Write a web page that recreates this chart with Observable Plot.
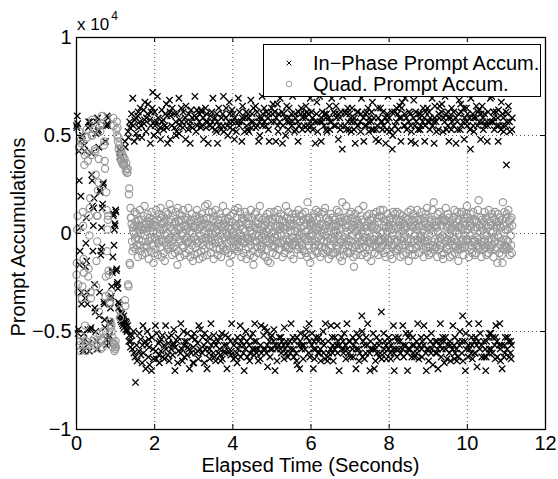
<!DOCTYPE html>
<html><head><meta charset="utf-8">
<script src="https://cdn.jsdelivr.net/npm/d3@7"></script>
<script src="https://cdn.jsdelivr.net/npm/@observablehq/plot@0.6"></script>
<style>
html,body{margin:0;padding:0;background:#fff;}
svg{display:block}
</style></head><body><div id="chart"></div>
<script>
// Sampling clock of the accumulations (samples per second)
const sampleRate = 100;
// Values below are in hundreds of accumulation counts
const unit = 100;
const inPhase = [
55,54,60,56,-51,-49,42,27,-16,-9,
3,19,-30,-36,48,50,-59,-55,-60,-51,
45,42,-33,-17,-5,8,-14,-30,-36,-49,
54,57,-56,-60,55,57,-49,-48,41,30,
27,14,-9,4,13,18,-26,-38,-40,-50,
51,57,-55,-59,59,52,53,44,-42,-30,
22,21,-11,-9,3,-7,13,15,25,26,
-35,-36,-44,-48,47,55,-57,-54,60,56,
55,59,-53,-56,-52,-45,-46,-38,-33,-32,
-27,-19,-20,-12,9,10,-6,2,5,4,
12,11,-19,-18,-26,-25,-28,-35,-38,-36,
43,39,-42,-44,-40,-45,-41,-46,-43,-47,
-44,-42,-48,-45,47,44,-49,-45,-46,-50,
-49,-47,52,49,-55,-52,57,54,-58,-55,
56,61,-52,-59,69,55,-50,-61,47,58,-63,-76,59,51,-57,-65,49,60,62,54,
-60,-51,57,64,-54,-62,55,49,-66,-57,-47,-61,63,56,58,67,-55,-69,52,59,
-57,-50,61,66,-63,-54,-58,-67,58,46,55,62,-70,-53,64,72,-59,-64,50,57,
62,55,-47,-60,-64,-51,57,70,52,59,-56,-62,-66,-55,54,48,-60,-54,63,57,
-52,-63,58,53,-57,-64,55,61,-47,-59,66,54,60,46,-62,-56,-53,-65,68,62,
48,60,-59,-52,55,64,-62,-57,-56,-49,61,54,-70,-58,57,50,52,61,-55,-66,
-53,-60,69,51,58,55,-61,-46,64,57,-59,-65,54,62,-50,-57,-63,-55,59,48,
65,57,-55,-62,-51,-58,53,61,-59,-69,55,46,57,63,-61,-53,59,54,-66,-58,
-66,-51,60,70,-54,-61,52,59,63,55,-56,-60,-64,-47,57,61,-59,-49,54,63,
55,62,-61,-53,59,48,-57,-66,-51,-59,64,57,54,61,-69,-55,57,46,-53,-61,
-59,-64,55,60,-46,-57,62,54,57,69,-61,-52,-55,-63,59,53,-65,-57,52,61,
57,46,-55,-61,64,55,-59,-53,-62,-65,53,59,-51,-64,61,55,70,52,-57,-60,
-61,-52,59,64,-57,-69,55,50,-53,-60,57,67,61,54,-55,-62,-60,-46,63,57,
53,61,-64,-57,48,59,-55,-63,57,52,-61,-66,-53,-59,69,57,55,62,-57,-47,
-63,-55,57,47,59,65,-53,-61,-57,-70,52,59,-59,-50,62,55,-55,-63,53,61,
59,52,-57,-65,-61,-53,68,57,54,61,-59,-51,57,64,-62,-55,-46,-59,65,54,
-55,-61,62,55,-59,-65,47,59,57,50,-64,-57,-47,-61,59,70,55,61,-59,-52,
64,57,-48,-59,55,62,-61,-50,-57,-68,59,53,61,47,-55,-63,-59,-53,57,64,
-52,-59,61,66,-55,-49,57,62,-70,-57,47,59,-59,-65,66,55,52,61,-57,-53,
57,69,-59,-53,-61,-55,62,46,55,61,-57,-64,-48,-59,59,50,-61,-55,65,57,
-57,-63,53,59,64,57,-55,-61,-59,-46,61,55,57,70,-53,-59,-63,-55,52,61,
59,53,-61,-65,-53,-67,57,47,62,55,-57,-69,-55,-51,61,64,-59,-57,53,59,
-64,-57,55,61,-52,-59,59,65,-49,-53,62,55,53,61,-61,-46,-55,-63,69,57,
55,62,-57,-51,59,53,-69,-59,-55,-64,57,46,-59,-53,61,67,57,52,-61,-55,
-53,-61,70,57,-59,-65,47,59,57,62,-55,-50,-61,-57,55,61,-64,-46,59,53,
61,52,-65,-63,-55,-61,59,65,53,57,-59,-47,57,69,-53,-61,-57,-65,62,55,
-59,-53,61,55,65,59,-57,-47,-61,-55,48,61,-70,-57,59,53,55,62,-53,-59,
43,70,-55,-61,-59,-51,55,62,-57,-64,61,53,-46,-59,64,57,-61,-55,53,61,
-55,-63,59,52,57,64,-59,-53,-63,-57,53,59,57,46,-55,-69,-59,-51,62,55,
62,55,-59,-65,-53,-61,57,52,61,69,-42,-50,-63,-55,59,47,-57,-64,55,61,
-61,-53,55,62,-57,-46,64,57,52,59,-61,-70,-55,-59,57,62,53,67,-59,-51,
53,59,-69,-57,-59,-65,48,53,-53,-61,55,64,59,47,-57,-63,-55,-61,64,57,
-40,-64,57,53,62,55,-51,-59,-61,-55,59,46,-57,-64,53,61,57,70,-59,-53,
59,52,-55,-61,-64,-57,53,62,43,50,-59,-47,-61,-70,62,55,-53,-59,57,64,
-63,-55,61,53,-53,-59,59,65,-55,-61,47,59,64,67,-59,-47,-57,-63,55,61,
55,69,-57,-51,59,53,-61,-70,-59,-53,57,62,-51,-59,61,55,47,52,-63,-57,
-53,-61,59,68,-57,-63,55,46,62,57,-55,-61,-59,-46,53,61,-64,-57,59,53,
61,55,-53,-59,-63,-55,57,64,-57,-47,59,47,55,62,-61,-70,-53,-59,64,57,
-59,-65,62,57,53,59,-55,-61,-51,-59,69,55,-67,-57,57,46,59,65,-55,-61,
57,52,-61,-55,-59,-69,53,61,59,65,-57,-46,-55,-63,62,66,-59,-53,52,59,
-55,-66,57,70,-53,-59,61,53,-64,-57,55,62,59,47,-61,-55,-57,-65,59,53,
64,57,-59,-47,55,62,-57,-64,-53,-61,59,46,-59,-65,57,53,-63,-55,61,68,
-57,-50,53,66,62,55,-61,-55,-42,-65,57,64,48,59,-55,-70,-51,-59,64,57,
55,61,-63,-57,-46,-59,59,53,43,69,-61,-53,-57,-64,61,55,59,52,-55,-61,
-61,-53,59,65,-57,-68,55,62,-55,-46,63,57,-59,-51,48,61,-57,-63,65,57,
59,53,-55,-63,61,55,-59,-70,-63,-55,57,47,55,62,-53,-61,-59,-51,57,69,
-51,-59,70,57,-61,-53,57,62,59,53,-57,-64,-53,-47,62,55,-55,-63,59,47,
63,55,-57,-46,-59,-65,53,67,-57,-69,61,55,59,52,-63,-57,-61,-53,55,62,
35,57,-59,-53,61,65,-55,-63,57,52,-61,-55,-64,-57,53,59
];
const quadrature = [
-21,-15,2,9,-26,-30,44,52,-57,-55,
-60,-52,48,46,-33,-27,11,4,-13,-20,
35,40,-47,-57,-55,-60,53,49,41,37,
-22,-18,9,-1,13,18,-30,-33,40,50,
50,58,-55,-59,-54,-57,53,43,42,30,
-27,-14,9,-4,9,22,26,38,-40,-51,
55,52,-59,-54,56,60,-55,-58,-50,-53,
45,47,37,33,-32,-22,21,12,-9,2,
7,9,-19,-21,-31,-35,-36,-45,-48,-47,
-50,-56,-53,-58,59,55,-56,-60,-57,-59,
-55,-58,53,57,50,54,47,49,43,45,
-39,-43,40,38,43,37,41,36,40,35,
39,36,35,38,-34,-37,32,36,33,31,
31,33,-26,-27,20,23,-15,-16,13,8,
8,5,-4,-9,3,1,-7,0,4,11,-3,-8,6,-2,10,4,-6,-12,2,7,
-3,4,12,-6,-9,0,7,3,-11,-4,2,9,-7,5,14,-1,-10,3,5,-6,
1,-7,10,3,-4,-13,6,8,-2,5,-9,3,11,-3,-6,7,1,-15,4,-10,
6,-2,-8,4,12,-3,0,7,-11,-5,3,10,-4,2,-7,13,8,-3,-12,5,
-4,9,2,-10,6,3,-14,-1,7,11,-6,0,4,-8,10,-3,-7,6,15,-2,
3,-6,7,12,-4,-11,2,9,-3,-7,5,1,-10,6,11,-2,-8,3,-16,13,
-9,2,6,-3,10,-12,-4,7,3,-1,9,-6,0,12,-7,4,-11,-3,7,2,
4,-10,-2,8,-5,3,13,-4,-8,6,1,-12,7,-3,5,10,-6,0,-14,3,
-2,7,-11,4,3,-7,9,-3,12,-5,-10,2,6,-4,-13,8,3,-1,7,-9,
10,-3,4,-12,-6,7,1,-8,5,14,-2,-4,8,3,-11,15,4,0,-3,11,
-6,3,8,-2,-10,4,-4,11,0,-7,7,-13,3,9,-3,-5,12,1,-8,4,
2,-11,-3,7,5,-4,10,-8,-1,4,-12,3,8,-6,0,14,-7,5,-2,-9,
7,4,-8,0,11,-5,-1,8,-10,3,6,-3,-15,4,9,-4,2,-11,6,-1,
-3,10,1,-7,-4,12,-8,3,4,-6,8,-2,-9,13,-3,5,-7,0,11,-4,
4,-1,-12,6,8,-3,2,-10,-5,7,-4,11,1,-8,5,-13,9,-2,-3,8,
-7,5,3,-4,-11,1,12,-6,8,-2,0,-9,4,-16,-12,3,-4,10,-1,6,
11,-4,-7,3,5,-10,-1,8,-3,14,-6,2,-8,4,-2,-7,7,-11,3,0,
-1,8,4,-12,-3,6,-8,1,10,-4,-14,7,2,-5,11,-3,-15,4,0,-7,
6,-3,-10,7,1,-6,11,-2,-7,4,8,-11,-4,3,-1,12,-5,-8,7,2,
-8,4,0,10,-5,-1,7,-12,3,-4,6,9,-10,2,-7,4,14,-3,-6,8,
3,-7,11,-4,-8,5,-3,1,-11,7,4,-2,10,-6,-2,-13,5,8,-4,1,
-4,10,-6,3,7,-8,1,-3,12,-7,-1,6,-4,9,-11,3,0,-6,10,-8,
7,-2,-9,4,-3,11,-10,5,1,-4,-12,16,7,-3,8,-6,-1,4,-15,5,
0,6,-4,-11,8,-1,4,-7,10,3,-6,-9,2,12,-4,7,-10,3,-2,11,
-6,3,8,-1,-12,5,-3,10,-7,0,4,-10,11,-4,2,-7,13,-1,-8,4,
8,-4,1,-9,6,-13,7,3,-3,-6,10,1,-11,4,-2,8,-4,-10,5,0,
-3,7,-10,4,1,-6,12,-8,4,-1,-7,11,-3,6,-12,2,8,-4,3,-14,
16,-8,6,-3,-11,8,-2,7,-6,3,14,-4,-9,1,7,-10,4,-3,-6,10,
-10,2,-4,11,3,-7,8,-1,-12,6,-17,4,-7,10,1,-6,-11,7,3,-2,
5,-6,12,-1,-8,4,-4,9,3,-11,7,-3,0,-7,14,-4,-2,6,-10,3,
-2,4,-7,9,-12,1,6,-4,-8,10,-3,7,-5,3,-14,4,8,-7,2,-3,
10,-3,3,-10,4,-6,-1,11,-7,2,8,-4,-11,6,-3,9,-8,12,-4,0,
-7,8,-3,1,-6,12,-10,4,6,-2,-4,-12,3,7,-8,1,10,-3,-6,4,
3,-4,7,-11,8,-3,2,-7,-13,6,11,-1,-6,4,-3,10,-9,3,7,-8,
-4,11,-8,3,-1,6,-7,10,4,-12,-3,7,1,-6,9,-4,-11,5,-2,3,
2,-6,4,8,-10,3,-3,7,-4,11,-14,-8,6,1,-7,12,-3,4,-11,7,
-8,3,10,-4,6,-1,-11,4,8,-7,2,-3,12,-6,-4,7,3,-10,4,-2,
7,-1,-6,11,-3,4,-8,2,-12,6,8,-4,-2,10,-7,3,-4,13,-9,3,
-3,8,-11,4,2,-7,6,-10,3,7,-4,12,-6,1,16,-8,4,-3,-7,6,
4,-7,3,-12,10,1,-4,6,-8,11,-2,-6,7,-3,4,-11,8,-1,-13,7,
-10,6,-2,7,-4,13,-7,3,4,-8,10,-3,-6,8,-1,4,-12,6,2,-4,
3,-11,7,-2,-6,8,-3,12,-10,4,1,-7,6,-4,11,-8,3,-14,7,0,
-6,4,-8,10,3,-4,11,-7,2,-3,-11,6,8,-1,-7,4,-4,10,-3,14,
8,-3,2,-7,-12,6,-1,4,10,-8,3,-6,-10,7,-3,11,-4,2,6,-11,
-4,7,-10,3,6,-2,-6,12,-3,17,-7,4,-8,1,8,-4,-12,3,7,-6,
2,-8,6,-4,11,-3,-7,8,4,-11,-1,7,-6,3,-10,12,-3,6,-8,1,
-7,4,-3,10,-6,8,1,-12,7,-2,-4,11,-8,3,6,-7,4,-15,10,-1,
6,-2,-10,4,8,-6,3,-4,-11,7,-15,16,-3,-8,4,11,-6,2,-7,8,
-3,10,-7,2,-4,12,-8,6,3,-11,7,-1,-6,8,-10,4
];
const xTicks = [0, 2, 4, 6, 8, 10, 12];
const yTicks = [-10000, -5000, 0, 5000, 10000];
const xGrid = [2, 4, 6, 8, 10];
const yGrid = [-5000, 0, 5000];
const seriesNames = ["In\u2212Phase Prompt Accum.", "Quad. Prompt Accum."];
const xLabel = "Elapsed Time (Seconds)";
const yLabel = "Prompt Accumulations";
const exponentBase = "x 10";
const exponentPower = "4";

const n = Math.min(inPhase.length, quadrature.length);
const samples = d3.range(n).map(i => ({t: i / sampleRate, inPhase: inPhase[i] * unit, quad: quadrature[i] * unit}));

const W = 558, H = 479, mL = 76, mR = 13, mT = 37, mB = 50;
const innerW = W - mL - mR, innerH = H - mT - mB;
const tickLen = 5;
const FONT = "'Liberation Sans', Arial, Helvetica, sans-serif";
const FS = 20;
const fmtY = d => d === 0 ? "0" : (d < 0 ? "\u2212" : "") + Math.abs(d / 1e4);

const chart = Plot.plot({
  width: W, height: H,
  marginLeft: mL, marginRight: mR, marginTop: mT, marginBottom: mB,
  style: {fontFamily: FONT, fontSize: FS + "px", background: "#fff", color: "#000", overflow: "visible"},
  x: {domain: [0, 12]},
  y: {domain: [-10000, 10000]},
  marks: [
    Plot.ruleX(xGrid, {stroke: "#555", strokeDasharray: "1,3", strokeWidth: 1}),
    Plot.ruleY(yGrid, {stroke: "#555", strokeDasharray: "1,3", strokeWidth: 1}),
    Plot.dot(samples, {x: "t", y: "inPhase", symbol: "times", r: 3.0, stroke: "#000", strokeWidth: 1.3}),
    Plot.dot(samples, {x: "t", y: "quad", symbol: "circle", r: 3.6, stroke: "#999", fill: "none", strokeWidth: 1.2}),
    Plot.ruleX(xTicks, {insetTop: innerH - tickLen, stroke: "#000"}),
    Plot.ruleX(xTicks, {insetBottom: innerH - tickLen, stroke: "#000"}),
    Plot.ruleY(yTicks, {insetRight: innerW - tickLen, stroke: "#000"}),
    Plot.ruleY(yTicks, {insetLeft: innerW - tickLen, stroke: "#000"}),
    Plot.frame({stroke: "#000", strokeWidth: 1.3}),
    Plot.axisX({ticks: xTicks, tickSize: 0, tickPadding: 6, label: null}),
    Plot.axisY({ticks: yTicks, tickSize: 0, tickPadding: 5, tickFormat: fmtY, label: null})
  ]
});

const svg = d3.select(chart);
svg.append("text").attr("x", mL + innerW / 2).attr("y", 472)
  .attr("text-anchor", "middle").attr("font-family", FONT).attr("font-size", FS).attr("fill", "#000").text(xLabel);
svg.append("text").attr("transform", "translate(25,237) rotate(-90)")
  .attr("text-anchor", "middle").attr("font-family", FONT).attr("font-size", FS).attr("fill", "#000").text(yLabel);
const ex = svg.append("text").attr("x", 77).attr("y", 30).attr("text-anchor", "start")
  .attr("font-family", FONT).attr("font-size", 17).attr("fill", "#000");
ex.append("tspan").text(exponentBase);
ex.append("tspan").attr("font-size", 12).attr("dx", 2).attr("dy", -10.5).text(exponentPower);

const lg = svg.append("g").attr("font-family", FONT).attr("font-size", FS).attr("fill", "#000").attr("text-anchor", "start");
lg.append("rect").attr("x", 263.5).attr("y", 44.5).attr("width", 277).attr("height", 52)
  .attr("fill", "#fff").attr("stroke", "#000").attr("stroke-width", 1);
lg.append("path").attr("d", d3.symbol(d3.symbolTimes, 16)()).attr("transform", "translate(289,63)")
  .attr("stroke", "#000").attr("fill", "none");
lg.append("circle").attr("cx", 289).attr("cy", 84).attr("r", 2.8).attr("fill", "none").attr("stroke", "#999");
lg.append("text").attr("x", 313).attr("y", 70).attr("text-anchor", "start").text(seriesNames[0]);
lg.append("text").attr("x", 313).attr("y", 91).attr("text-anchor", "start").text(seriesNames[1]);

document.getElementById("chart").appendChild(chart);
</script>
</body></html>
